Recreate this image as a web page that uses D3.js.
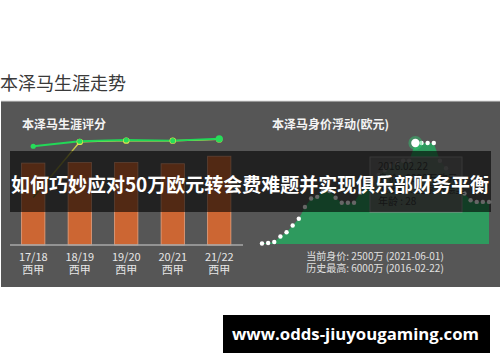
<!DOCTYPE html>
<meta charset="utf-8">
<style>

body {
  margin: 0;
  background: #fff;
}

text {
  font-family: "Noto Sans CJK SC", "Open Sans", sans-serif;
}

</style>
<svg></svg>
<script src="https://d3js.org/d3.v7.min.js"></script>
<script>

var width = 500,
    height = 362;

// career rating panel
var seasons = ["17/18", "18/19", "19/20", "20/21", "21/22"],
    leagues = ["西甲", "西甲", "西甲", "西甲", "西甲"];

var barValues = [6.55, 6.6, 6.6, 6.5, 7.1],
    ratingGreen = [7.9, 8.3, 8.4, 8.35, 8.5],
    ratingYellow = [3.8, 8.25, 8.35, 8.35, 8.45];

// market value panel (万欧元)
var marketValues = [30, 60, 120, 450, 700, 1100, 1500, 2200, 2700, 2800,
    3200, 3150, 2750, 2450, 2450, 2450, 3050, 3450, 3800, 4100,
    4400, 4650, 4800, 4950, 4950, 6000, 6000, 6000, 6000, 4950,
    4500, 4000, 3500, 3000, 2600, 2500, 2500, 2500];
var peakIndex = 25;

var tooltipLines = ["2016.02.22", "身价 : 6000万欧元", "俱乐部 : 皇家马德里", "年龄 : 28"],
    footerLines = ["当前身价: 2500万 (2021-06-01)", "历史最高: 6000万 (2016-02-22)"];

var svg = d3.select("svg")
    .attr("width", width)
    .attr("height", height);

svg.append("text")
    .attr("x", 0)
    .attr("y", 90)
    .attr("fill", "#3a3a3a")
    .style("font-size", "18px")
    .text("本泽马生涯走势");

// panel
svg.append("rect")
    .attr("x", 1)
    .attr("y", 101)
    .attr("width", width - 1)
    .attr("height", 186)
    .attr("fill", "#565656");

svg.append("line")
    .attr("x1", 1).attr("x2", width)
    .attr("y1", 101).attr("y2", 101)
    .attr("stroke", "#d8d8d8");

var sub = svg.append("g")
    .attr("fill", "#f4f4f4")
    .style("font-size", "12px")
    .style("font-weight", "bold");

sub.append("text").attr("x", 22).attr("y", 129).text("本泽马生涯评分");
sub.append("text").attr("x", 272).attr("y", 129).text("本泽马身价浮动(欧元)");

// ---- left chart
var x = d3.scaleBand()
    .domain(seasons)
    .range([10, 242.5])
    .paddingInner(0.5)
    .paddingOuter(0.25);

var y = d3.scaleLinear()
    .domain([0, 10])
    .range([245, 120]);

var left = svg.append("g");

left.selectAll(".bar")
    .data(barValues)
  .enter().append("rect")
    .attr("class", "bar")
    .attr("x", function(d, i) { return x(seasons[i]); })
    .attr("y", function(d) { return y(d); })
    .attr("width", x.bandwidth())
    .attr("height", function(d) { return y(0) - y(d); })
    .attr("fill", "#cc6633")
    .attr("stroke", "#e9a27e")
    .attr("stroke-width", 0.8);

left.append("line")
    .attr("x1", 10).attr("x2", 243)
    .attr("y1", y(0)).attr("y2", y(0))
    .attr("stroke", "#a8a8a8")
    .attr("stroke-width", 1.5);

var xAxis = left.append("g")
    .attr("fill", "#e6e6e6")
    .style("font-size", "11px")
    .attr("text-anchor", "middle");

xAxis.selectAll(".season")
    .data(seasons)
  .enter().append("text")
    .attr("x", function(d) { return x(d) + x.bandwidth() / 2; })
    .attr("y", 261)
    .text(function(d) { return d; });

xAxis.selectAll(".league")
    .data(leagues)
  .enter().append("text")
    .attr("x", function(d, i) { return x(seasons[i]) + x.bandwidth() / 2; })
    .attr("y", 274)
    .text(function(d) { return d; });

var line = d3.line()
    .x(function(d, i) { return x(seasons[i]) + x.bandwidth() / 2; })
    .y(function(d) { return y(d); });

var grad = svg.append("defs").append("linearGradient")
    .attr("id", "yellowGrad")
    .attr("gradientUnits", "userSpaceOnUse")
    .attr("x1", x(seasons[0])).attr("x2", x(seasons[1]) + x.bandwidth() / 2)
    .attr("y1", 0).attr("y2", 0);
grad.append("stop").attr("offset", 0).attr("stop-color", "#5d5a2c");
grad.append("stop").attr("offset", 0.75).attr("stop-color", "#8f8b3a");
grad.append("stop").attr("offset", 1).attr("stop-color", "#ecea50");

left.append("path")
    .datum(ratingYellow)
    .attr("d", line)
    .attr("fill", "none")
    .attr("stroke", "url(#yellowGrad)")
    .attr("stroke-width", 1.5);

left.append("path")
    .datum(ratingGreen)
    .attr("d", line)
    .attr("fill", "none")
    .attr("stroke", "#22d857")
    .attr("stroke-width", 1.8);

left.selectAll(".ydot")
    .data(ratingYellow.slice(1))
  .enter().append("circle")
    .attr("cx", function(d, i) { return x(seasons[i + 1]) + x.bandwidth() / 2; })
    .attr("cy", function(d) { return y(d); })
    .attr("r", 3.2)
    .attr("fill", "#e2e64a");

left.selectAll(".gdot")
    .data(ratingGreen)
  .enter().append("circle")
    .attr("cx", function(d, i) { return x(seasons[i]) + x.bandwidth() / 2; })
    .attr("cy", function(d) { return y(d); })
    .attr("r", function(d, i) { return i === ratingGreen.length - 1 ? 3.6 : 2.6; })
    .attr("fill", "#27dc5a");

// ---- right chart
var x2 = d3.scaleLinear()
    .domain([0, marketValues.length - 1])
    .range([262, 489]);

var y2 = d3.scaleLinear()
    .domain([0, 6000])
    .range([244, 143]);

var right = svg.append("g");

right.append("path")
    .datum(marketValues)
    .attr("d", d3.area()
        .x(function(d, i) { return x2(i); })
        .y0(y2(0))
        .y1(function(d) { return y2(d); }))
    .attr("fill", "#2e9a5e");

right.selectAll(".vdot")
    .data(marketValues)
  .enter().append("circle")
    .attr("cx", function(d, i) { return x2(i); })
    .attr("cy", function(d) { return y2(d); })
    .attr("r", 2.2)
    .attr("fill", "#fff");

right.append("circle")
    .attr("cx", x2(peakIndex))
    .attr("cy", y2(marketValues[peakIndex]))
    .attr("r", 7)
    .attr("fill", "#2ecc71")
    .attr("opacity", 0.45);

right.append("circle")
    .attr("cx", x2(peakIndex))
    .attr("cy", y2(marketValues[peakIndex]))
    .attr("r", 4.2)
    .attr("fill", "#fff");

var tip = right.append("g")
    .attr("transform", "translate(370,157)");

tip.append("rect")
    .attr("width", 92)
    .attr("height", 55)
    .attr("fill", "#6a6a6a")
    .attr("fill-opacity", 0.85)
    .attr("stroke", "#8c8c8c");

tip.selectAll("text")
    .data(tooltipLines)
  .enter().append("text")
    .attr("x", 8)
    .attr("y", function(d, i) { return 13 + i * 11.5; })
    .attr("fill", "#363636")
    .style("font-size", "10px")
    .text(function(d) { return d; });

right.selectAll(".foot")
    .data(footerLines)
  .enter().append("text")
    .attr("x", 375)
    .attr("y", function(d, i) { return 260 + i * 12; })
    .attr("text-anchor", "middle")
    .attr("fill", "#e0e0e0")
    .style("font-size", "10px")
    .text(function(d) { return d; });

// ---- headline banner
svg.append("rect")
    .attr("x", 10)
    .attr("y", 151)
    .attr("width", 481)
    .attr("height", 61)
    .attr("fill", "#000")
    .attr("fill-opacity", 0.6);

svg.append("text")
    .attr("x", 11)
    .attr("y", 192)
    .attr("textLength", 478)
    .attr("lengthAdjust", "spacingAndGlyphs")
    .attr("fill", "#fff")
    .style("font-size", "19.5px")
    .style("font-weight", "bold")
    .text("如何巧妙应对50万欧元转会费难题并实现俱乐部财务平衡");

// ---- url badge
svg.append("rect")
    .attr("x", 223)
    .attr("y", 315)
    .attr("width", 267)
    .attr("height", 38)
    .attr("fill", "#000");

svg.append("text")
    .attr("x", 232)
    .attr("y", 340)
    .attr("textLength", 247)
    .attr("lengthAdjust", "spacingAndGlyphs")
    .attr("fill", "#fff")
    .style("font-family", "'Open Sans', sans-serif")
    .style("font-size", "16px")
    .style("font-weight", "bold")
    .text("www.odds-jiuyougaming.com");

</script>
